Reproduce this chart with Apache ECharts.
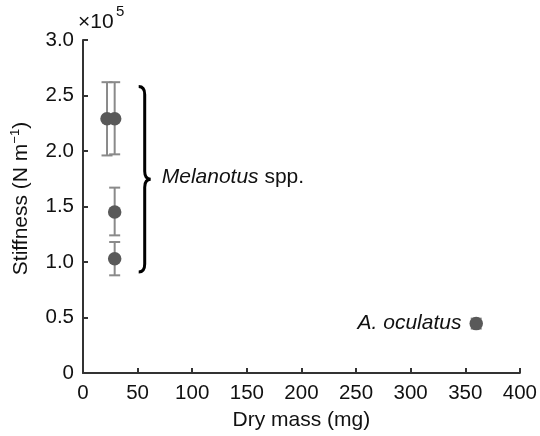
<!DOCTYPE html>
<html><head><meta charset="utf-8">
<script src="https://cdn.jsdelivr.net/npm/echarts@6/dist/echarts.min.js"></script>
<style>html,body{margin:0;padding:0;background:#fff}#c{width:540px;height:436px}</style>
</head><body><div id="c"></div>
<script>
// Data
var mass      = [22, 29, 29, 29, 360];
var stiffness = [2.29, 2.29, 1.45, 1.03, 0.445];
var errLow    = [1.96, 1.97, 1.24, 0.88, 0.40];
var errHigh   = [2.62, 2.62, 1.67, 1.18, 0.49];
var species   = ['Melanotus', 'Melanotus', 'Melanotus', 'Melanotus', 'A. oculatus'];
var xTicks = [0, 50, 100, 150, 200, 250, 300, 350, 400];
var yTicks = [0, 0.5, 1.0, 1.5, 2.0, 2.5, 3.0];
// Brace annotation spanning the Melanotus group: [x, yLow, yHigh]
var brace = [[51, 0.91, 2.58]];

var FONT = '"Liberation Sans", Arial, sans-serif';
var pts = mass.map(function (m, i) { return [m, stiffness[i]]; });
var errs = mass.map(function (m, i) { return [m, errLow[i], errHigh[i]]; });

var chart = echarts.init(document.getElementById('c'), null, {renderer: 'canvas'});
chart.setOption({
  animation: false,
  backgroundColor: '#fff',
  textStyle: {fontFamily: FONT},
  grid: {left: 83, right: 19, top: 40, bottom: 62, containLabel: false},
  xAxis: {
    type: 'value', min: xTicks[0], max: xTicks[xTicks.length - 1], interval: 50,
    name: 'Dry mass (mg)', nameLocation: 'middle', nameGap: 37,
    nameTextStyle: {fontSize: 21, color: '#111', fontFamily: FONT},
    axisLine: {lineStyle: {color: '#333', width: 2}},
    axisTick: {inside: true, length: 5, lineStyle: {color: '#333', width: 2}},
    axisLabel: {fontSize: 20.5, color: '#111', margin: 10, fontFamily: FONT},
    splitLine: {show: false}
  },
  yAxis: {
    type: 'value', min: yTicks[0], max: yTicks[yTicks.length - 1], interval: 0.5,
    name: '{m|Stiffness (N m}{sup|−1}{m|)}', nameLocation: 'middle', nameGap: 50,
    nameTextStyle: {fontSize: 21, color: '#111', fontFamily: FONT, padding: [0, 0, 0, 16],
      rich: {
        m: {fontSize: 21, color: '#111', fontFamily: FONT},
        sup: {fontSize: 13, verticalAlign: 'top', padding: [0, 0, 11, 0], color: '#111', fontFamily: FONT}}},
    axisLine: {show: true, lineStyle: {color: '#333', width: 2}},
    axisTick: {show: true, inside: true, length: 5, lineStyle: {color: '#333', width: 2}},
    axisLabel: {fontSize: 20.5, color: '#111', margin: 9, fontFamily: FONT,
      formatter: function (v) { return v === 0 ? '0' : v.toFixed(1); }},
    splitLine: {show: false}
  },
  graphic: [
    {type: 'text', left: 78, top: 12,
      style: {text: '×10', fontSize: 21, fill: '#111', fontFamily: FONT}},
    {type: 'text', left: 116, top: 4,
      style: {text: '5', fontSize: 15, fill: '#111', fontFamily: FONT}}
  ],
  series: [
    {
      type: 'custom', name: 'err', data: errs, z: 2,
      renderItem: function (params, api) {
        var x = api.value(0);
        var lo = api.coord([x, api.value(1)]);
        var hi = api.coord([x, api.value(2)]);
        var w = 5.5;
        var st = {stroke: '#8a8a8a', lineWidth: 2};
        return {type: 'group', children: [
          {type: 'line', shape: {x1: lo[0], y1: lo[1], x2: hi[0], y2: hi[1]}, style: st},
          {type: 'line', shape: {x1: lo[0] - w, y1: lo[1], x2: lo[0] + w, y2: lo[1]}, style: st},
          {type: 'line', shape: {x1: hi[0] - w, y1: hi[1], x2: hi[0] + w, y2: hi[1]}, style: st}
        ]};
      }
    },
    {
      type: 'scatter', data: pts, symbol: 'circle', symbolSize: 13.5, z: 3,
      itemStyle: {color: '#595959', opacity: 1},
      label: {
        show: true, position: 'left', distance: 8, color: '#111',
        formatter: function (p) { return p.dataIndex === 4 ? '{i|A. oculatus}' : ''; },
        rich: {i: {fontStyle: 'italic', fontSize: 21, color: '#111', fontFamily: FONT}}
      },
      emphasis: {disabled: true}
    },
    {
      type: 'custom', name: 'brace', data: brace, z: 4,
      renderItem: function (params, api) {
        var top = api.coord([api.value(0), api.value(2)]);
        var bot = api.coord([api.value(0), api.value(1)]);
        var x0 = top[0], y0 = top[1], y1 = bot[1];
        var w = 12, mid = x0 + w / 2, ym = (y0 + y1) / 2, r = 8;
        var d = 'M' + x0 + ',' + y0 +
          ' Q' + mid + ',' + y0 + ' ' + mid + ',' + (y0 + r) +
          ' L' + mid + ',' + (ym - r) +
          ' Q' + mid + ',' + ym + ' ' + (x0 + w) + ',' + ym +
          ' Q' + mid + ',' + ym + ' ' + mid + ',' + (ym + r) +
          ' L' + mid + ',' + (y1 - r) +
          ' Q' + mid + ',' + y1 + ' ' + x0 + ',' + y1;
        return {type: 'group', children: [
          {type: 'path', shape: {pathData: d}, style: {stroke: '#000', lineWidth: 3, fill: null}},
          {type: 'text', x: x0 + w + 11, y: ym - 2,
            style: {text: '{i|Melanotus}{n| spp.}', verticalAlign: 'middle', align: 'left',
              rich: {i: {fontStyle: 'italic', fontSize: 21, fill: '#111', fontFamily: FONT},
                     n: {fontSize: 21, fill: '#111', fontFamily: FONT}}}}
        ]};
      }
    }
  ]
});
</script></body></html>
